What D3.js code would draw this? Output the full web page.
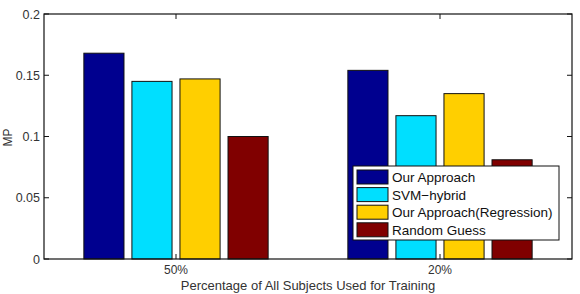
<!DOCTYPE html>
<html>
<head>
<meta charset="utf-8">
<script src="https://cdn.jsdelivr.net/npm/d3@7"></script>
<style>
  html, body { margin: 0; padding: 0; background: #fff; }
  svg { display: block; font-family: "Liberation Sans", Arial, sans-serif; }
</style>
</head>
<body>
<div id="chart"></div>
<script>
// Grouped bar chart, MATLAB-style boxed axes with inward ticks.

const categories = ['50%', '20%'];
const seriesNames = ['Our Approach', 'SVM\u2212hybrid', 'Our Approach(Regression)', 'Random Guess'];
const ourApproach = [0.168, 0.154];
const svmHybrid = [0.145, 0.117];
const ourApproachRegression = [0.147, 0.135];
const randomGuess = [0.100, 0.081];
const yTicks = [0, 0.05, 0.1, 0.15, 0.2];
const yTickLabels = ['0', '0.05', '0.1', '0.15', '0.2'];

const seriesValues = [ourApproach, svmHybrid, ourApproachRegression, randomGuess];
const COLORS = ['#00008f', '#00dfff', '#ffcf00', '#800000'];

const W = 580, H = 294;
const padL = 44, padR = 8, padT = 14, padB = 35;
const innerW = W - padL - padR;
const innerH = H - padT - padB;

const svg = d3.select('#chart').append('svg')
  .attr('width', W).attr('height', H)
  .attr('viewBox', `0 0 ${W} ${H}`);

const g = svg.append('g').attr('transform', `translate(${padL},${padT})`);

// category centers at 1 and 2 on a [0.5, 2.5] domain
const x = d3.scaleLinear().domain([0.5, 2.5]).range([0, innerW]);
const y = d3.scaleLinear().domain([0, 0.2]).range([innerH, 0]);

const barStep = 0.182;   // in category units
const barW = 0.152;

// Bars
seriesValues.forEach((vals, s) => {
  g.selectAll(null)
    .data(vals)
    .join('rect')
    .attr('x', (d, i) => x(i + 1 + (s - 1.5) * barStep - barW / 2))
    .attr('y', d => y(d))
    .attr('width', x(barW) - x(0))
    .attr('height', d => y(0) - y(d))
    .attr('fill', COLORS[s])
    .attr('stroke', '#111')
    .attr('stroke-width', 1);
});

// Box
g.append('rect')
  .attr('x', 0).attr('y', 0)
  .attr('width', innerW).attr('height', innerH)
  .attr('fill', 'none')
  .attr('stroke', '#111')
  .attr('stroke-width', 1.2);

const tickLen = 5;

// Y ticks, left and right, inward
yTicks.forEach((t, i) => {
  const ty = y(t);
  g.append('line').attr('x1', 0).attr('x2', tickLen).attr('y1', ty).attr('y2', ty)
    .attr('stroke', '#111');
  g.append('line').attr('x1', innerW - tickLen).attr('x2', innerW).attr('y1', ty).attr('y2', ty)
    .attr('stroke', '#111');
  g.append('text')
    .attr('x', -4).attr('y', ty + 4.5)
    .attr('text-anchor', 'end')
    .attr('font-size', 12.5)
    .attr('fill', '#333')
    .text(yTickLabels[i]);
});

// X ticks, bottom and top, inward
categories.forEach((c, i) => {
  const tx = x(i + 1);
  g.append('line').attr('x1', tx).attr('x2', tx).attr('y1', innerH - tickLen).attr('y2', innerH)
    .attr('stroke', '#111');
  g.append('line').attr('x1', tx).attr('x2', tx).attr('y1', 0).attr('y2', tickLen)
    .attr('stroke', '#111');
  g.append('text')
    .attr('x', tx).attr('y', innerH + 15)
    .attr('text-anchor', 'middle')
    .attr('font-size', 12)
    .attr('fill', '#333')
    .text(c);
});

// Axis labels
svg.append('text')
  .attr('x', padL + innerW / 2).attr('y', H - 4)
  .attr('text-anchor', 'middle')
  .attr('font-size', 13)
  .attr('fill', '#333')
  .text('Percentage of All Subjects Used for Training');

svg.append('text')
  .attr('transform', `translate(12,${padT + innerH / 2 + 1}) rotate(-90)`)
  .attr('text-anchor', 'middle')
  .attr('font-size', 12)
  .attr('fill', '#333')
  .text('MP');

// Legend
const lg = svg.append('g').attr('transform', 'translate(353,166)');
lg.append('rect')
  .attr('x', 0).attr('y', 0).attr('width', 206).attr('height', 74)
  .attr('fill', '#fff').attr('stroke', '#111').attr('stroke-width', 1);
seriesNames.forEach((name, i) => {
  const ry = 4 + i * 17.6;
  lg.append('rect')
    .attr('x', 4).attr('y', ry).attr('width', 31).attr('height', 14)
    .attr('fill', COLORS[i]).attr('stroke', '#111');
  lg.append('text')
    .attr('x', 39).attr('y', ry + 12)
    .attr('font-size', 13.5)
    .attr('fill', '#111')
    .text(name);
});
</script>
</body>
</html>
